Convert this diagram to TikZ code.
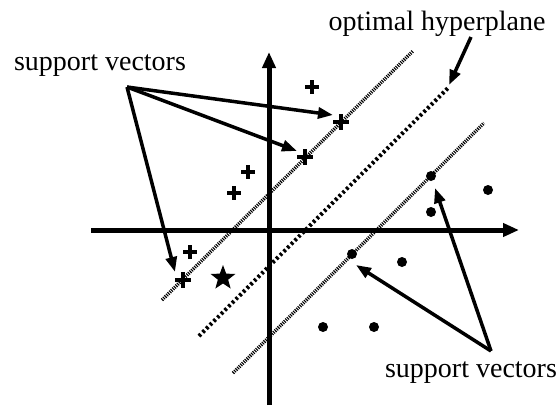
\documentclass[tikz,border=0pt]{standalone}
\usepackage{fontspec}
\setmainfont{Liberation Serif}
\usetikzlibrary{arrows.meta,shapes.geometric}
\begin{document}
\begin{tikzpicture}[x=1pt,y=-1pt,
  axis/.style={line width=5pt,-{Triangle[length=16pt,width=13pt]}},
  arr/.style={line width=3.5pt,-{Triangle[length=15pt,width=11pt]}},
  margin/.style={line width=3.5pt,dash pattern=on 1.1pt off 1.1pt},
  optimal/.style={line width=4pt,dash pattern=on 2.6pt off 2.6pt},
  plusm/.style={minimum size=14pt,inner sep=0pt,path picture={
     \draw[line width=3.2pt] (path picture bounding box.north) -- (path picture bounding box.south)
       (path picture bounding box.west) -- (path picture bounding box.east);}},
  svplus/.style={plusm,minimum size=16pt},
  dotm/.style={circle,fill,inner sep=0pt,minimum size=10pt},
  lbl/.style={font=\fontsize{28}{30}\selectfont,inner sep=0pt}
]
\useasboundingbox (0,0) rectangle (560,405);
% axes
\coordinate (ybot) at (269,405);
\coordinate (ytop) at (269,52);
\coordinate (xl) at (91,230);
\coordinate (xr) at (519,230);
\draw[axis] (ybot) -- (ytop);
\draw[axis] (xl) -- (xr);
% lines
\coordinate (m1a) at (162,300); \coordinate (m1b) at (413,51);
\coordinate (oa) at (199,336); \coordinate (ob) at (448,88);
\coordinate (m2a) at (233,373); \coordinate (m2b) at (484,123);
\draw[margin] (m1a) -- (m1b);
\draw[optimal] (oa) -- (ob);
\draw[margin] (m2a) -- (m2b);
% plus points
\node[svplus] (s1) at (341,122) {};
\node[svplus] (s2) at (305,157) {};
\node[svplus] (s3) at (183,280) {};
\node[plusm] (p1) at (312,87) {};
\node[plusm] (p2) at (248,172) {};
\node[plusm] (p3) at (234,193) {};
\node[plusm] (p4) at (190,252) {};
% star
\node[star,star points=5,star point ratio=2.4,fill,inner sep=0pt,minimum size=26pt] (st) at (223,278) {};
% dots
\node[dotm] (d1) at (431,176) {};
\node[dotm] (d2) at (352,254) {};
\node[dotm] (d3) at (488,190) {};
\node[dotm] (d4) at (431,212) {};
\node[dotm] (d5) at (402,262) {};
\node[dotm] (d6) at (323,327) {};
\node[dotm] (d7) at (374,327) {};
% labels
\node[lbl] (t1) at (100,66) {support vectors};
\node[lbl] (t2) at (437,24) {optimal hyperplane};
\node[lbl] (t3) at (471,373) {support vectors};
% arrows
\coordinate (a1) at (127,87);
\coordinate (h1) at (333,115);
\coordinate (h2) at (297,151);
\coordinate (h3) at (175,272);
\draw[arr] (a1) -- (h1);
\draw[arr] (a1) -- (h2);
\draw[arr] (a1) -- (h3);
\coordinate (a2) at (471,37);
\coordinate (h4) at (449,85);
\draw[arr] (a2) -- (h4);
\coordinate (a3) at (491,351);
\coordinate (h5) at (356,265);
\coordinate (h6) at (435,188);
\draw[arr] (a3) -- (h5);
\draw[arr] (a3) -- (h6);
\end{tikzpicture}
\end{document}
